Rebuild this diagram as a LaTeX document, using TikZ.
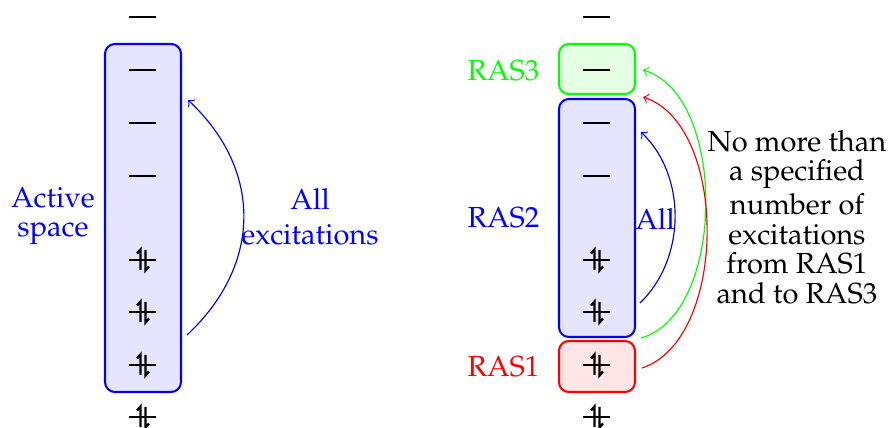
\documentclass[tikz,border=0pt]{standalone}
\usepackage[T1]{fontenc}
\usepackage{mathpazo}
\def\px{0.3446pt}
\tikzset{
  % orbital levels: an empty level and a doubly occupied one
  pics/orb/.style={code={\draw[line width=0.45pt] (-13.5,0) -- (13.5,0);}},
  pics/pairorb/.style={code={
    \draw[line width=0.45pt] (-13.5,0) -- (13.5,0);
    \draw[line width=0.8pt] (-2.5,10) -- (-2.5,-10.5) -- (-6,-6.5);
    \draw[line width=0.8pt] (2.5,-10) -- (2.5,10.5) -- (6,6.5);
  }},
  spacebox/.style={draw=#1, fill=#1!10, line width=0.7pt, rounded corners=3.4pt,
    minimum width=76*\px, inner sep=0pt},
  lbl/.style={text=#1, inner sep=0pt, font=\fontsize{10}{12}\selectfont},
  arr/.style={->, draw=#1, line width=0.4pt},
}
\begin{document}
\begin{tikzpicture}[x=\px, y=-\px]
\useasboundingbox (0,0) rectangle (888,428);

% boxes
\node[spacebox=blue, minimum height=348*\px] (act) at (143,218) {};
\node[spacebox=green, minimum height=50*\px] (ras3) at (597,69) {};
\node[spacebox=blue, minimum height=238*\px] (ras2) at (597,218) {};
\node[spacebox=red, minimum height=51*\px] (ras1) at (597,366.5) {};

% orbital levels
\foreach \cx in {143,597}{
  \foreach \cy in {17,70,123,176} \pic at (\cx,\cy) {orb};
  \foreach \cy in {260,312,365,417} \pic at (\cx,\cy) {pairorb};
}

% arrow end points
\coordinate (a0) at (187,335);  \coordinate (a1) at (188,100);
\coordinate (b0) at (640,303);  \coordinate (b1) at (641,132);
\coordinate (g0) at (641,338);  \coordinate (g1) at (643,70);
\coordinate (r0) at (642,368);  \coordinate (r1) at (643,97);

\draw[arr=blue] (a0) .. controls (262,265) and (263,170) .. (a1);
\draw[arr=blue] (b0) .. controls (686,259) and (687,176) .. (b1);
\draw[arr=green] (g0) .. controls (726,315) and (728,95) .. (g1);
\draw[arr=red] (r0) .. controls (728,340) and (729,125) .. (r1);

% labels
\node[lbl=blue, align=center, font=\fontsize{10}{10.3}\selectfont] (actlbl) at (53,216) {Active\\space};
\node[lbl=blue, align=center] (alllbl) at (310,217) {All\\excitations};
\node[lbl=green, anchor=base east] (ras3lbl) at (540,80) {RAS3};
\node[lbl=blue, anchor=base east] (ras2lbl) at (540,228) {RAS2};
\node[lbl=red, anchor=base east] (ras1lbl) at (540,377) {RAS1};
\node[lbl=blue, anchor=base] (all2) at (655,230) {All};
\node[lbl=black, align=center, font=\fontsize{10}{10.2}\selectfont] (rule) at (797,217)
  {No more than\\a specified\\[1.5pt]number of\\excitations\\from RAS1\\and to RAS3};
\end{tikzpicture}
\end{document}
